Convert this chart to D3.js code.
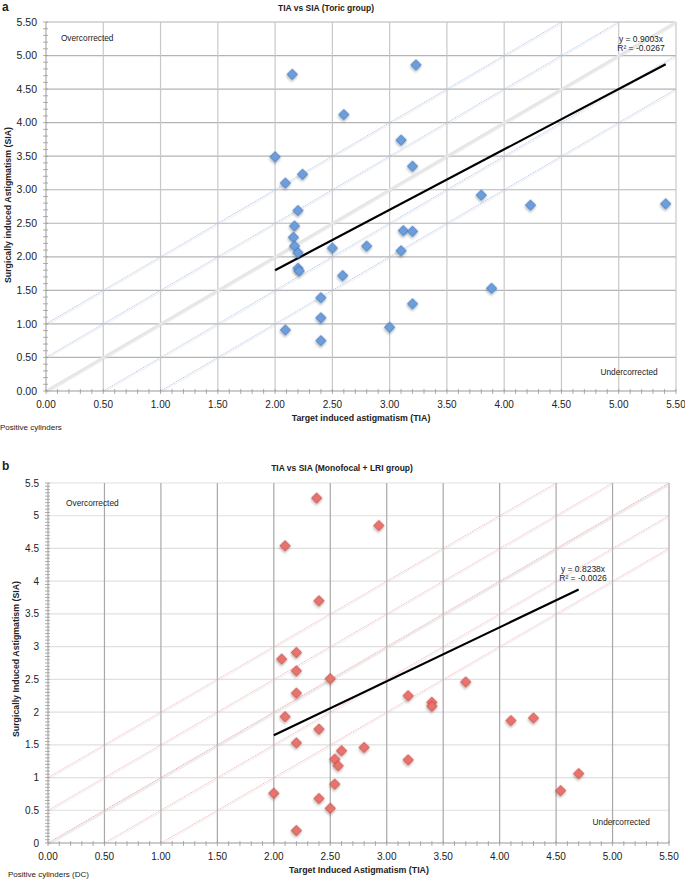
<!DOCTYPE html>
<html>
<head>
<meta charset="utf-8">
<script src="https://cdn.jsdelivr.net/npm/d3@7"></script>
<style>
  body { margin: 0; background: #fff; }
  svg text { font-family: "Liberation Sans", Arial, sans-serif; fill: #222; }
</style>
</head>
<body>
<svg id="chart" width="685" height="879"></svg>
<script>
// ---- data ----
// panel a: toric group
var toricTIA = [2.15, 2.60, 2.00, 2.09, 2.24, 2.20, 3.23, 3.10, 3.20, 3.80, 4.23, 5.41, 2.17, 2.16, 2.17, 2.20,
                2.20, 2.21, 2.50, 2.59, 2.40, 2.40, 2.40, 2.09, 3.12, 3.20, 2.80, 3.10, 3.89, 3.20, 3.00];
var toricSIA = [4.72, 4.12, 3.49, 3.10, 3.23, 2.69, 4.86, 3.74, 3.35, 2.92, 2.77, 2.79, 2.46, 2.29, 2.16, 2.06,
                1.83, 1.79, 2.13, 1.72, 1.39, 1.09, 0.75, 0.91, 2.39, 2.38, 2.16, 2.09, 1.53, 1.30, 0.95];
// panel b: monofocal + LRI group
var lriTIA = [2.38, 2.10, 2.40, 2.20, 2.07, 2.93, 2.20, 2.50, 2.20, 2.10, 2.40, 2.20, 2.60, 2.54, 2.57,
              2.54, 2.00, 2.40, 2.50, 2.20, 2.80, 3.19, 3.40, 3.40, 3.70, 4.10, 4.30, 3.19, 4.70, 4.54];
var lriSIA = [5.27, 4.54, 3.70, 2.91, 2.81, 4.85, 2.63, 2.51, 2.29, 1.93, 1.74, 1.53, 1.41, 1.28, 1.18,
              0.90, 0.76, 0.68, 0.53, 0.19, 1.46, 2.25, 2.15, 2.09, 2.46, 1.87, 1.91, 1.27, 1.06, 0.80];

var majorTicks = [0, 0.5, 1, 1.5, 2, 2.5, 3, 3.5, 4, 4.5, 5, 5.5];
var diagOffsets = [1, 0.5, 0, -0.5, -1];
var slopeA = 0.9003, fitRangeA = [2.0, 5.41];
var slopeB = 0.8238, fitRangeB = [2.0, 4.70];

var svg = d3.select("#chart");

var defs = svg.append("defs");
var f = defs.append("filter").attr("id", "shadow").attr("x", "-50%").attr("y", "-50%")
            .attr("width", "200%").attr("height", "200%");
f.append("feDropShadow").attr("dx", 1).attr("dy", 1.5).attr("stdDeviation", 1)
 .attr("flood-color", "#000").attr("flood-opacity", 0.3);

function drawPanel(p) {
  var x = d3.scaleLinear().domain([0, 5.5]).range(p.xr),
      y = d3.scaleLinear().domain([0, 5.5]).range(p.yr);
  var g = svg.append("g");

  // grid
  g.selectAll(".hg").data(majorTicks.slice(1)).enter().append("line")
   .attr("x1", x(0)).attr("x2", x(5.5))
   .attr("y1", function(d) { return y(d); }).attr("y2", function(d) { return y(d); })
   .attr("stroke", p.hGrid).attr("stroke-width", 1.2);
  g.selectAll(".vg").data(majorTicks.slice(1)).enter().append("line")
   .attr("y1", y(0)).attr("y2", y(5.5))
   .attr("x1", function(d) { return x(d); }).attr("x2", function(d) { return x(d); })
   .attr("stroke", p.vGrid).attr("stroke-width", 1.2);

  // reference diagonals y = x + c
  function seg(c) {
    var x0 = Math.max(0, -c), x1 = Math.min(5.5, 5.5 - c);
    return [x(x0), y(x0 + c), x(x1), y(x1 + c)];
  }
  g.selectAll(".ds").data(diagOffsets).enter().append("line")
   .attr("x1", function(c) { return seg(c)[0] + 0.5; }).attr("y1", function(c) { return seg(c)[1] + 1.5; })
   .attr("x2", function(c) { return seg(c)[2] + 0.5; }).attr("y2", function(c) { return seg(c)[3] + 1.5; })
   .attr("stroke", "#d6d6d6").attr("stroke-opacity", function(c) { return c === 0 ? 0.45 : 0.3; })
   .attr("stroke-width", function(c) { return c === 0 ? 2.2 : 1.4; });
  g.selectAll(".dl").data(diagOffsets).enter().append("line")
   .attr("x1", function(c) { return seg(c)[0]; }).attr("y1", function(c) { return seg(c)[1]; })
   .attr("x2", function(c) { return seg(c)[2]; }).attr("y2", function(c) { return seg(c)[3]; })
   .attr("stroke", function(c) { return c === 0 ? p.idColor : p.diagColor; })
   .attr("stroke-width", function(c) { return c === 0 ? p.idWidth : 0.8; })
   .attr("stroke-dasharray", function(c) { return c === 0 && p.idWidth > 2 ? null : "1.2,0.8"; });

  // axes
  var yAxis = g.append("g").attr("transform", "translate(" + x(0) + ",0)");
  yAxis.append("line").attr("y1", y(0)).attr("y2", y(5.5)).attr("stroke", "#999");
  yAxis.selectAll(".ym").data(d3.range(0, 5.5001, p.yMinor)).enter().append("line")
   .attr("x1", -3).attr("x2", 2)
   .attr("y1", function(d) { return y(d); }).attr("y2", function(d) { return y(d); })
   .attr("stroke", "#999").attr("stroke-width", 0.8);
  yAxis.selectAll(".yl").data(majorTicks).enter().append("text")
   .attr("x", -9).attr("y", function(d) { return y(d); }).attr("dy", "0.35em")
   .attr("text-anchor", "end").attr("font-size", p.yFont).attr("fill", "#333")
   .text(p.yFmt);

  var xAxis = g.append("g").attr("transform", "translate(0," + y(0) + ")");
  xAxis.append("line").attr("x1", x(0)).attr("x2", x(5.5)).attr("stroke", "#999");
  xAxis.selectAll(".xm").data(d3.range(0, 5.5001, 0.1)).enter().append("line")
   .attr("y1", -2).attr("y2", 3)
   .attr("x1", function(d) { return x(d); }).attr("x2", function(d) { return x(d); })
   .attr("stroke", "#999").attr("stroke-width", 0.8);
  xAxis.selectAll(".xl").data(majorTicks).enter().append("text")
   .attr("x", function(d) { return x(d); }).attr("y", 17)
   .attr("text-anchor", "middle").attr("font-size", "10px").attr("fill", "#333")
   .text(d3.format(".2f"));

  // trend line
  g.append("line")
   .attr("x1", x(p.fit[0])).attr("y1", y(p.fit[0] * p.slope))
   .attr("x2", x(p.fit[1])).attr("y2", y(p.fit[1] * p.slope))
   .attr("stroke", "#000").attr("stroke-width", 2.2);

  // points
  var sq = d3.symbol().type(d3.symbolSquare).size(54);
  g.selectAll(".pt").data(p.tia).enter().append("path")
   .attr("d", sq)
   .attr("transform", function(d, i) { return "translate(" + x(d) + "," + y(p.sia[i]) + ") rotate(45)"; })
   .attr("fill", p.fill).attr("stroke", p.stroke).attr("stroke-width", 0.8)
   .attr("filter", "url(#shadow)");

  // texts
  g.append("text").attr("x", p.labelPos[0]).attr("y", p.labelPos[1])
   .attr("font-size", "12px").attr("font-weight", "bold").attr("fill", "#000").text(p.label);
  g.append("text").attr("x", p.titleX).attr("y", p.titleY)
   .attr("text-anchor", "middle").attr("font-size", "8.5px").attr("font-weight", "bold").text(p.title);
  g.append("text").attr("x", x(p.overPos[0])).attr("y", y(p.overPos[1]))
   .attr("font-size", "8.3px").text("Overcorrected");
  g.append("text").attr("x", x(p.underPos[0])).attr("y", y(p.underPos[1]))
   .attr("text-anchor", "end").attr("font-size", "8.3px").text("Undercorrected");
  g.append("text").attr("x", p.xTitleX).attr("y", y(0) + 30)
   .attr("text-anchor", "middle").attr("font-size", "8.8px").attr("font-weight", "bold").text(p.xTitle);
  g.append("text").attr("transform", "translate(" + p.yTitleX + "," + p.yTitleY + ") rotate(-90)")
   .attr("text-anchor", "middle").attr("font-size", "8.8px").attr("font-weight", "bold").text(p.yTitle);
  g.append("text").attr("x", p.noteX).attr("y", p.noteY)
   .attr("font-size", "8px").text(p.note);
  var eq = g.append("text").attr("text-anchor", "middle").attr("font-size", "8.5px");
  eq.append("tspan").attr("x", p.eqPos[0]).attr("y", p.eqPos[1]).text("y = " + p.slope.toFixed(4) + "x");
  eq.append("tspan").attr("x", p.eqPos[0]).attr("y", p.eqPos[1] + 8.5).text("R² = " + p.r2);
}

drawPanel({
  xr: [46, 676], yr: [391, 22], hGrid: "#b4b4b4", vGrid: "#c8c8c8",
  diagColor: "#9dbde6", idColor: "#e6e6e6", idWidth: 2.6,
  yMinor: 0.1, yFmt: d3.format(".2f"), yFont: "10.5px",
  tia: toricTIA, sia: toricSIA, fill: "#6d9ed9", stroke: "#4a7cbf",
  slope: slopeA, fit: fitRangeA, r2: "-0.0267", eqPos: [641, 42],
  label: "a", labelPos: [2, 11], title: "TIA vs SIA (Toric group)", titleX: 326, titleY: 11,
  overPos: [0.13, 5.21], underPos: [5.34, 0.24],
  xTitle: "Target induced astigmatism (TIA)", xTitleX: 361,
  yTitle: "Surgically induced Astigmatism (SIA)", yTitleX: 11, yTitleY: 205,
  note: "Positive cylinders", noteX: 0, noteY: 430
});

drawPanel({
  xr: [48, 669], yr: [843, 483], hGrid: "#e0e0e0", vGrid: "#a8a8a8",
  diagColor: "#f2a8a4", idColor: "#f0aca8", idWidth: 1,
  yMinor: 0.05, yFmt: d3.format(""), yFont: "10px",
  tia: lriTIA, sia: lriSIA, fill: "#e8736d", stroke: "#c8524c",
  slope: slopeB, fit: fitRangeB, r2: "-0.0026", eqPos: [583, 572],
  label: "b", labelPos: [2, 470], title: "TIA vs SIA (Monofocal + LRI group)", titleX: 342, titleY: 471,
  overPos: [0.16, 5.15], underPos: [5.33, 0.27],
  xTitle: "Target Induced Astigmatism (TIA)", xTitleX: 359,
  yTitle: "Surgically Induced Astigmatism (SIA)", yTitleX: 19, yTitleY: 659,
  note: "Positive cylinders (DC)", noteX: 8, noteY: 877
});
</script>
</body>
</html>
